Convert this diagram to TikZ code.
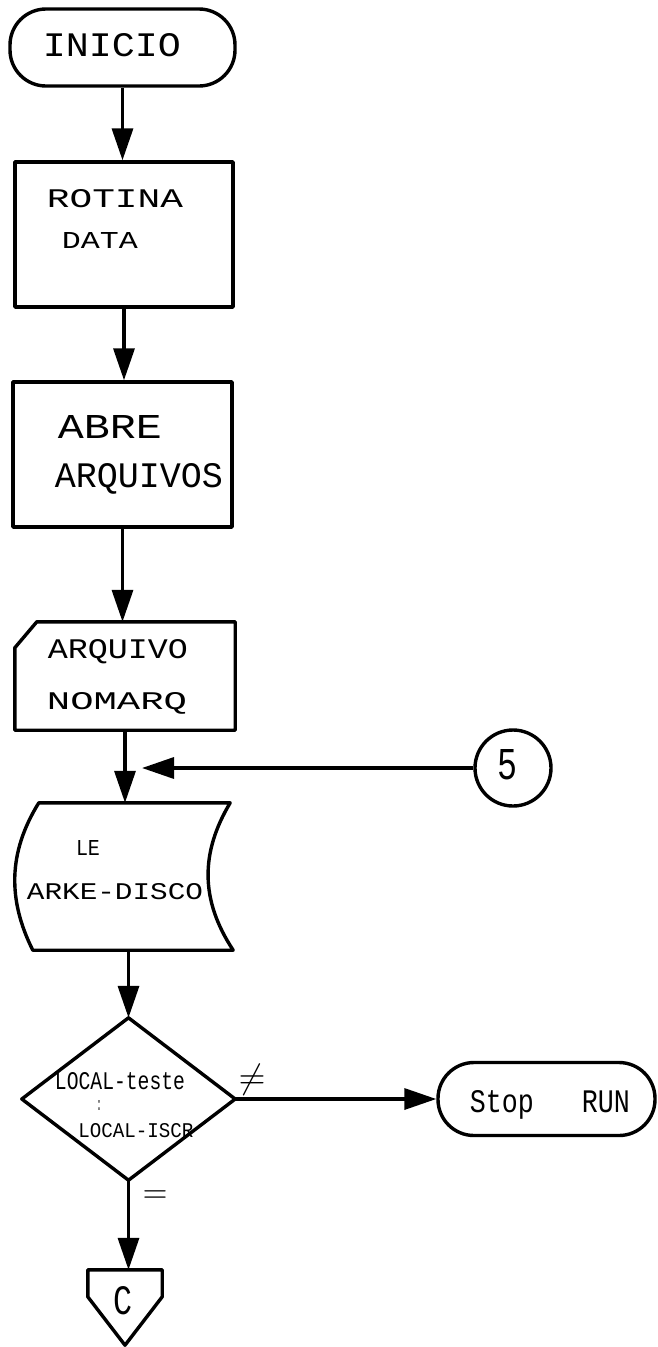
\documentclass[tikz,border=0pt]{standalone}
\usepackage{fontspec}
\usepackage{graphicx}
\newfontfamily\hand{Liberation Mono}
\usetikzlibrary{arrows.meta,calc}
\newcommand{\hw}[3]{\resizebox{#1pt}{#2pt}{\hand #3}}
\tikzset{
  ln/.style={line width=3.4pt, line join=round},
  arr/.style={ln, -{Triangle[length=32pt,width=21pt]}},
  term/.style={ln, draw, rectangle, rounded corners=36pt, inner sep=0pt},
  proc/.style={ln, draw, rectangle, inner sep=0pt},
  frame/.style={rectangle, inner sep=0pt, draw=none},
  lbl/.style={inner sep=0pt, anchor=center},
}
\begin{document}
\begin{tikzpicture}[x=1pt,y=-1pt]
\useasboundingbox (0,0) rectangle (658,1347);
\fill[white] (0,0) rectangle (658,1347);

% shapes
\node[term, minimum width=225pt, minimum height=77pt] (start) at (122.5,47.5) {};
\node[proc, minimum width=218pt, minimum height=145pt] (r1) at (124,234.5) {};
\node[proc, minimum width=219pt, minimum height=145pt] (r2) at (122.5,454.5) {};
\node[frame, minimum width=220pt, minimum height=108pt] (cd) at (125,676) {};
\draw[ln] ([yshift=-26pt]cd.north west) -- ([xshift=22pt]cd.north west) -- (cd.north east) -- (cd.south east) -- (cd.south west) -- cycle;
\node[frame, minimum width=218pt, minimum height=147pt] (ds) at (124,876.5) {};
\draw[ln] ([xshift=24pt]ds.north west) -- ([xshift=-3pt]ds.north east)
  .. controls ([xshift=-33pt,yshift=-50pt]ds.north east) and ([xshift=-33pt,yshift=50pt]ds.south east) .. (ds.south east)
  -- ([xshift=18pt]ds.south west)
  .. controls ([xshift=-7pt,yshift=50pt]ds.south west) and ([xshift=-7pt,yshift=-50pt]ds.north west) .. cycle;
\node[frame, minimum width=213pt, minimum height=162pt] (dec) at (128.5,1099) {};
\draw[ln] (dec.north) -- (dec.east) -- (dec.south) -- (dec.west) -- cycle;
\node[term, minimum width=217pt, minimum height=73pt] (stop) at (546.5,1099) {};
\node[ln, draw, circle, minimum size=76pt, inner sep=0pt] (c5) at (513,768) {};
\node[frame, minimum width=74pt, minimum height=75pt] (oc) at (125,1307.5) {};
\draw[ln] (oc.north west) -- (oc.north east) -- ([yshift=-27pt]oc.north east) -- (oc.south) -- ([yshift=-27pt]oc.north west) -- cycle;
\coordinate (join) at (142,768);

% texts
\node[lbl] (tStart) at (112,45) {\hw{138}{23}{INICIO}};
\node[lbl] (tR1a) at (115,199) {\hw{136}{18}{ROTINA}};
\node[lbl] (tR1b) at (100,240) {\hw{76}{16}{DATA}};
\node[lbl] (tR2a) at (110,427) {\hw{104}{23}{ABRE}};
\node[lbl] (tR2b) at (139,479) {\hw{168}{24}{ARQUIVOS}};
\node[lbl] (tCda) at (118,652) {\hw{140}{19}{ARQUIVO}};
\node[lbl] (tCdb) at (117,703) {\hw{140}{17}{NOMARQ}};
\node[lbl] (tDsa) at (88,848) {\hw{24}{15}{LE}};
\node[lbl] (tDsb) at (115,892) {\hw{176}{16}{ARKE-DISCO}};
\node[lbl] (tDeca) at (120,1081) {\hw{130}{17}{LOCAL-teste}};
\node[lbl] (tDecb) at (99,1105) {\hw{5}{10}{:}};
\node[lbl] (tDecc) at (136,1131) {\hw{115}{14}{LOCAL-ISCR}};
\node[lbl] (tNe) at (252,1080) {\resizebox{27pt}{!}{$\neq$}};
\node[lbl] (tEq) at (155,1197) {\resizebox{25pt}{!}{$=$}};
\node[lbl] (tStop) at (550,1105) {\hw{160}{22}{Stop~~~RUN}};
\node[lbl] (t5) at (507,765) {\hw{20}{30}{5}};
\node[lbl] (tC) at (122.5,1301) {\hw{19}{28}{C}};

% connectors
\draw[arr] (start.south) -- (start.south |- r1.north);
\draw[arr] (r1.south) -- (r1.south |- r2.north);
\draw[arr] (r2.south) -- (r2.south |- cd.north);
\draw[arr] (cd.south) -- (cd.south |- ds.north);
\draw[arr] (c5.west) -- (join);
\draw[arr] (dec.north |- ds.south) -- (dec.north);
\draw[arr] (dec.east) -- (stop.west);
\draw[arr] (dec.south) -- (dec.south |- oc.north);
\end{tikzpicture}
\end{document}
